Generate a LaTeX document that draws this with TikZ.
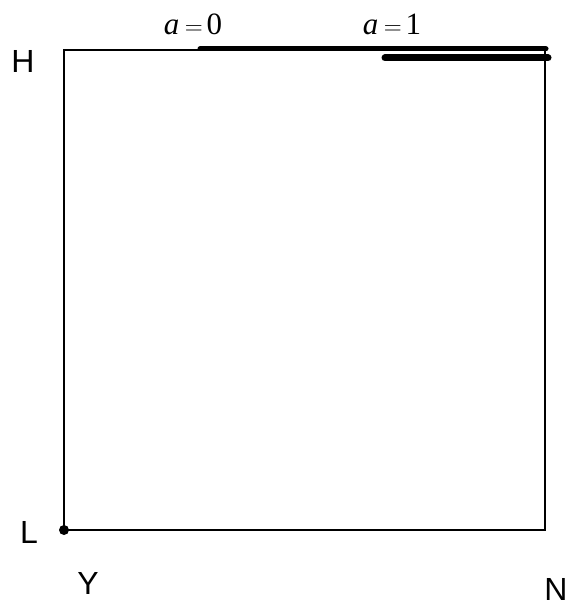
\documentclass[tikz,border=0pt]{standalone}
\usepackage{fontspec}
\setmainfont{Liberation Serif}
\setsansfont{Liberation Sans}
\usetikzlibrary{positioning,calc}

\begin{document}
\begin{tikzpicture}[x=1pt,y=-1pt,font=\sffamily,
  corner/.style={font=\sffamily\fontsize{32}{36}\selectfont,inner sep=0pt},
  alabel/.style={font=\rmfamily\fontsize{31}{34}\selectfont,inner sep=0pt},
  frame/.style={line width=1.5pt},
  band/.style={line width=#1,line cap=round}]
\useasboundingbox (0,0) rectangle (564,601);

\coordinate (hl) at (64,50);
\coordinate (hr) at (545,50);
\coordinate (lr) at (545,530);
\coordinate (ll) at (64,530);
\draw[frame] (hl)--(hr)--(lr)--(ll)--cycle;
\fill (ll) circle (5pt);

\coordinate (a0s) at (200,49);
\coordinate (a0e) at (546,49);
\coordinate (a1s) at (385,58);
\coordinate (a1e) at (548,58);
\draw[band=5pt] (a0s)--(a0e);
\draw[band=7pt] (a1s)--(a1e);

\node[alabel] (a0) at (193,24) {\textit{a}\hspace{0.18em}$=$\hspace{0.12em}0};
\node[alabel] (a1) at (392,24) {\textit{a}\hspace{0.18em}$=$\hspace{0.12em}1};

\foreach \n/\t/\x/\y in {h/H/23/61,l/L/29/532,y/Y/88/583,n/N/556/589}{
  \node[corner] (\n) at (\x,\y) {\t};}

\end{tikzpicture}
\end{document}
